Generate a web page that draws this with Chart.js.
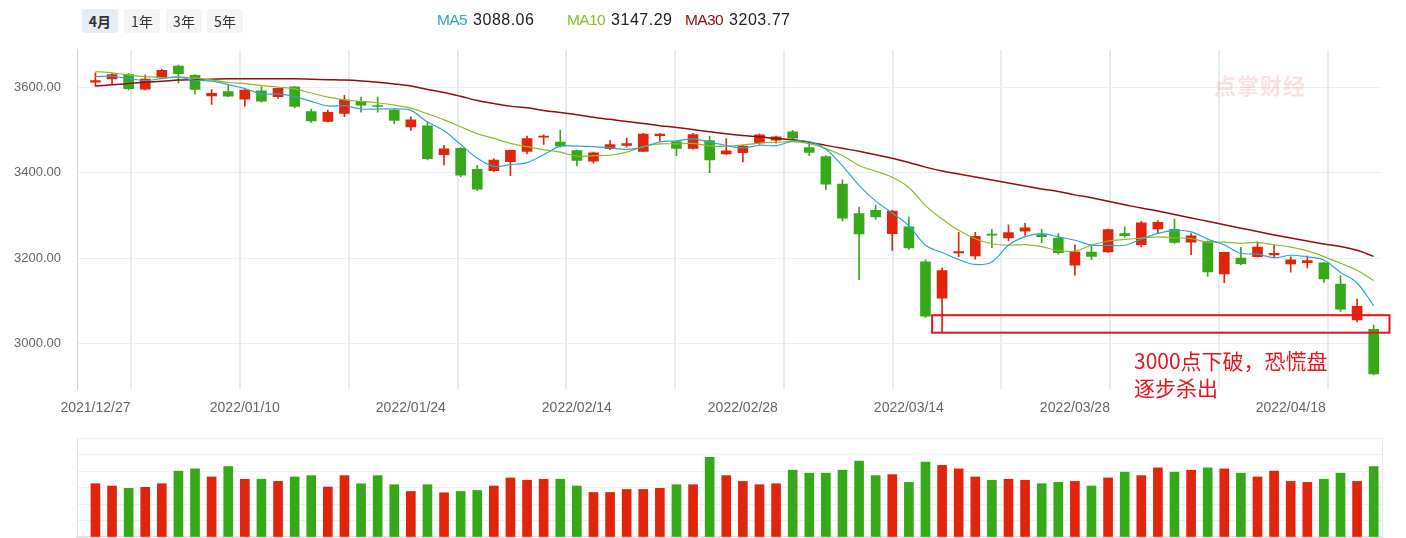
<!DOCTYPE html>
<html lang="zh-CN">
<head>
<meta charset="UTF-8" />
<title>上证指数 日K线</title>
<script src="https://cdn.jsdelivr.net/npm/chart.js"></script>
<style>
  body { margin: 0; background: #fff; font-family: "Liberation Sans", Arial, sans-serif; }
  .wrap { position: relative; width: 1406px; height: 538px; overflow: hidden; }
  .tab { position: absolute; top: 9px; width: 36px; height: 24px; line-height: 24px; text-align: center;
         font-size: 14px; color: #333; background: #f4f4f4; border-radius: 2px; z-index: 2;
         font-family: "Noto Sans CJK SC", sans-serif; }
  .tab.on { background: #e6ebf5; font-weight: bold; }
  .lg { position: absolute; top: 10px; line-height: 20px; z-index: 2; white-space: nowrap; }
  .lg b { font-weight: normal; font-size: 15.5px; letter-spacing: -0.6px; }
  .lg i { font-style: normal; font-size: 16px; letter-spacing: 0.5px; color: #222; margin-left: 6px; }
  canvas { position: absolute; left: 0; }
  .note { position: absolute; left: 1134px; top: 347px; font-size: 21px; line-height: 27px; color: #e8141c;
          font-family: "Noto Sans CJK SC", sans-serif; z-index: 2; }
  .mark { position: absolute; left: 1214px; top: 68px; font-size: 22px; font-weight: bold; color: rgba(225,120,120,0.22);
          font-family: "Noto Sans CJK SC", sans-serif; letter-spacing: 1px; z-index: 2; }
</style>
</head>
<body>
<div class="wrap">
  <div class="tab on" style="left:82px">4月</div>
  <div class="tab" style="left:124px">1年</div>
  <div class="tab" style="left:166px">3年</div>
  <div class="tab" style="left:207px">5年</div>

  <div class="lg" style="left:437px"><b style="color:#2ba7d5">MA5</b><i>3088.06</i></div>
  <div class="lg" style="left:567px"><b style="color:#8dbb2b">MA10</b><i>3147.29</i></div>
  <div class="lg" style="left:685px"><b style="color:#920d0d">MA30</b><i>3203.77</i></div>

  <div class="mark">点掌财经</div>
  <canvas id="kline" width="1406" height="394" style="top:26px"></canvas>
  <canvas id="vol" width="1406" height="108" style="top:430px"></canvas>
  <div class="note">3000点下破，恐慌盘<br>逐步杀出</div>
</div>

<script>
  // 交易日
  const dates = [
    "2021/12/27","2021/12/28","2021/12/29","2021/12/30","2021/12/31",
    "2022/01/04","2022/01/05","2022/01/06","2022/01/07",
    "2022/01/10","2022/01/11","2022/01/12","2022/01/13","2022/01/14",
    "2022/01/17","2022/01/18","2022/01/19","2022/01/20","2022/01/21",
    "2022/01/24","2022/01/25","2022/01/26","2022/01/27","2022/01/28",
    "2022/02/07","2022/02/08","2022/02/09","2022/02/10","2022/02/11",
    "2022/02/14","2022/02/15","2022/02/16","2022/02/17","2022/02/18",
    "2022/02/21","2022/02/22","2022/02/23","2022/02/24","2022/02/25",
    "2022/02/28","2022/03/01","2022/03/02","2022/03/03","2022/03/04",
    "2022/03/07","2022/03/08","2022/03/09","2022/03/10","2022/03/11",
    "2022/03/14","2022/03/15","2022/03/16","2022/03/17","2022/03/18",
    "2022/03/21","2022/03/22","2022/03/23","2022/03/24","2022/03/25",
    "2022/03/28","2022/03/29","2022/03/30","2022/03/31","2022/04/01",
    "2022/04/06","2022/04/07","2022/04/08",
    "2022/04/11","2022/04/12","2022/04/13","2022/04/14","2022/04/15",
    "2022/04/18","2022/04/19","2022/04/20","2022/04/21","2022/04/22",
    "2022/04/25"
  ];
  const xTickIdx = [0, 9, 19, 29, 39, 49, 59, 72];
  const yTicks = [3000, 3200, 3400, 3600];

  const openV = [3612,3620,3630,3596,3624,3650,3628,3580,3590,3572,3592,3578,3601,3543,3520,3539,3567,3557,3547,3507,
    3510,3442,3457,3408,3405,3426,3450,3483,3472,3452,3427,3456,3464,3450,3487,3473,3457,3475,3444,3447,
    3470,3476,3496,3459,3438,3373,3304,3312,3257,3273,3191,3106,3212,3205,3256,3247,3263,3255,3247,3183,
    3214,3214,3257,3231,3268,3267,3237,3239,3163,3200,3203,3207,3186,3189,3189,3139,3055,3033];
  const highV = [3634,3632,3632,3629,3642,3652,3630,3595,3607,3596,3601,3599,3602,3549,3547,3581,3577,3577,3549,3531,
    3520,3464,3459,3417,3433,3453,3486,3489,3500,3453,3448,3475,3481,3492,3492,3474,3492,3486,3480,3464,
    3491,3486,3499,3470,3440,3383,3319,3324,3312,3296,3196,3177,3260,3260,3267,3278,3281,3267,3257,3231,
    3228,3268,3273,3286,3288,3291,3257,3240,3214,3225,3238,3231,3203,3205,3190,3159,3104,3043];
  const lowV = [3603,3608,3594,3594,3623,3610,3584,3560,3578,3556,3565,3574,3552,3518,3519,3531,3542,3542,3515,3499,
    3430,3418,3390,3358,3403,3393,3444,3466,3460,3416,3422,3454,3460,3449,3474,3440,3455,3400,3442,3425,
    3466,3469,3478,3440,3360,3287,3149,3291,3218,3220,3061,3025,3203,3197,3224,3240,3253,3236,3209,3160,
    3196,3213,3249,3226,3258,3234,3208,3157,3142,3184,3202,3200,3167,3177,3143,3075,3050,2926];
  const closeV = [3615.97,3630.11,3597.00,3619.19,3639.78,3632.33,3595.18,3586.08,3579.54,3593.52,
    3567.44,3597.43,3555.26,3521.26,3541.67,3569.91,3558.18,3555.06,3522.57,3524.11,
    3433.06,3455.67,3394.25,3361.44,3429.58,3452.63,3479.95,3485.91,3462.95,3428.88,
    3446.65,3465.83,3468.04,3490.76,3490.61,3457.15,3489.15,3429.96,3451.41,3462.31,
    3488.83,3484.19,3481.11,3447.65,3372.86,3293.53,3256.39,3296.09,3309.75,3223.54,
    3063.97,3170.71,3215.04,3251.07,3253.69,3259.86,3271.03,3250.26,3212.24,3214.50,
    3203.94,3266.60,3252.20,3282.72,3283.43,3236.70,3251.85,3167.13,3213.33,3186.82,
    3225.64,3211.24,3195.52,3194.03,3151.05,3079.81,3086.92,2928.51];

  const ma5 = [3625.0,3626.0,3620.9,3616.1,3620.4,3623.7,3616.7,3614.5,3606.6,3597.3,
    3584.4,3584.8,3578.6,3567.0,3556.6,3557.1,3549.3,3549.2,3549.5,3546.0,
    3518.6,3498.1,3465.9,3433.7,3414.8,3418.7,3423.6,3441.9,3462.2,3462.1,
    3460.9,3458.0,3454.5,3460.0,3472.4,3474.5,3479.1,3471.5,3463.7,3458.0,
    3464.3,3463.3,3473.6,3472.8,3454.9,3415.9,3370.3,3333.3,3305.7,3275.9,
    3229.9,3212.8,3196.6,3184.9,3190.9,3230.1,3250.1,3257.2,3249.4,3241.6,
    3230.4,3229.5,3229.9,3244.0,3257.8,3264.3,3261.4,3244.4,3230.5,3211.2,
    3209.0,3200.8,3206.5,3202.7,3195.5,3166.3,3141.5,3088.06];
  const ma10 = [3637,3634,3629,3625,3623,3624.4,3621.4,3617.7,3611.4,3608.9,
    3604.1,3600.8,3596.6,3586.8,3577.0,3570.8,3567.1,3563.9,3558.3,3551.3,
    3537.9,3523.7,3507.6,3491.6,3480.4,3468.7,3460.9,3453.9,3448.0,3438.5,
    3439.8,3440.8,3448.2,3461.1,3467.3,3467.7,3468.6,3463.0,3461.9,3465.2,
    3469.4,3471.2,3472.6,3468.3,3456.5,3440.1,3416.8,3403.5,3389.3,3365.4,
    3322.9,3291.6,3265.0,3245.3,3233.4,3230.0,3231.5,3226.9,3217.2,3216.3,
    3230.3,3239.8,3243.6,3246.7,3249.7,3247.4,3245.5,3237.2,3237.3,3234.5,
    3236.7,3231.1,3225.5,3216.6,3203.4,3187.7,3171.2,3147.29];
  const ma30 = [3603,3606,3609,3612,3614,3617,3618,3619,3620,3620,
    3620,3620,3620,3619,3618,3617,3615,3612,3608,3603,
    3595,3588,3579,3569,3562,3556,3552,3546,3541,3536,
    3530,3525,3520,3515,3510,3506,3501,3496,3491,3487,
    3484,3480,3477,3471,3464,3457,3450,3442,3434,3424,
    3413,3404,3397,3390,3383,3376,3369,3362,3356,3348,
    3341,3333,3325,3317,3310,3302,3294,3286,3278,3270,
    3262,3254,3247,3240,3233,3227,3218,3203.77];

  // 成交额（亿）
  const volume = [3230,3090,2950,3010,3230,3990,4130,3640,4270,3500,
    3500,3370,3640,3720,3030,3720,3230,3720,3170,2760,
    3170,2680,2760,2820,3090,3580,3440,3500,3500,3090,
    2700,2700,2880,2880,2950,3170,3170,4830,3720,3370,
    3170,3230,4050,3870,3870,4050,4600,3720,3780,3310,
    4540,4340,4130,3640,3440,3500,3440,3230,3310,3370,
    3090,3580,3930,3720,4190,3930,4050,4190,4130,3870,
    3640,3990,3370,3310,3500,3870,3370,4270];

  // 标注框（数据坐标）
  const boxX = [50.4, 77.95];
  const boxY = [3025, 3066];

  const RED = "#e0250c";
  const GREEN = "#35a917";
  const colors = openV.map((o, i) => (closeV[i] >= o ? RED : GREEN));

  const xMin = -1.11, xMax = 77.5;
  const yMin = 2893, yMax = 3688;

  Chart.defaults.font.family = '"Liberation Sans", Arial, sans-serif';

  const boxPlugin = {
    id: "box",
    afterDatasetsDraw(chart) {
      const { ctx, scales: { x, y } } = chart;
      const l = x.getPixelForValue(boxX[0]), r = x.getPixelForValue(boxX[1]);
      const t = y.getPixelForValue(boxY[1]), b = y.getPixelForValue(boxY[0]);
      ctx.save();
      ctx.strokeStyle = "#e8141c";
      ctx.lineWidth = 2;
      ctx.strokeRect(l, t, r - l, b - t);
      ctx.restore();
    }
  };

  const maLine = (label, arr, color, width) => ({
    type: "line", label, data: arr.map((v, i) => ({ x: i, y: v })),
    borderColor: color, borderWidth: width, pointRadius: 0, tension: 0.35,
    xAxisID: "x", yAxisID: "y", order: 0
  });

  new Chart(document.getElementById("kline"), {
    type: "bar",
    data: {
      datasets: [
        maLine("MA5", ma5, "#2ba7d5", 1.2),
        maLine("MA10", ma10, "#8dbb2b", 1.2),
        maLine("MA30", ma30, "#920d0d", 1.5),
        {
          label: "body", data: openV.map((o, i) => ({ x: i, y: [o, closeV[i]] })),
          backgroundColor: colors, barThickness: 10, grouped: false, minBarLength: 1,
          xAxisID: "x", yAxisID: "y", order: 1
        },
        {
          label: "wick", data: lowV.map((l, i) => ({ x: i, y: [l, highV[i]] })),
          backgroundColor: colors, barThickness: 1, grouped: false,
          xAxisID: "x", yAxisID: "y", order: 2
        }
      ]
    },
    options: {
      responsive: false,
      animation: false,
      layout: { padding: { top: 9, right: 24, left: 0, bottom: 0 } },
      plugins: { legend: { display: false }, tooltip: { enabled: false } },
      scales: {
        x: {
          type: "linear", min: xMin, max: xMax, offset: false,
          grid: { display: false }, border: { display: false },
          afterBuildTicks: s => { s.ticks = xTickIdx.map(v => ({ value: v })); },
          ticks: { autoSkip: false, maxRotation: 0, padding: 3, color: "#666", font: { size: 14 },
                   callback: v => dates[v] },
          afterFit: s => { s.height = 31; }
        },
        xg: {
          type: "linear", position: "bottom", min: xMin, max: xMax, offset: false,
          afterBuildTicks: s => {
            const t = [];
            for (let k = 0; k <= 12; k++) t.push({ value: xMin + k * (xMax - xMin) / 12 });
            s.ticks = t;
          },
          ticks: { display: false },
          grid: { color: "#e6ebf1", lineWidth: 2, drawTicks: false },
          border: { display: false },
          afterFit: s => { s.height = 0; }
        },
        y: {
          min: yMin, max: yMax,
          afterBuildTicks: s => { s.ticks = yTicks.map(v => ({ value: v })); },
          ticks: { color: "#666", font: { size: 13 }, padding: 16, callback: v => v.toFixed(2) },
          grid: { color: "#ebeff4", drawTicks: false },
          border: { color: "#c6d6ea" },
          afterFit: s => { s.width = 77; }
        }
      }
    },
    plugins: [boxPlugin]
  });

  new Chart(document.getElementById("vol"), {
    type: "bar",
    data: {
      datasets: [{
        data: volume.map((v, i) => ({ x: i, y: v })),
        backgroundColor: colors, barThickness: 9, xAxisID: "x", yAxisID: "y"
      }]
    },
    options: {
      responsive: false,
      animation: false,
      layout: { padding: { top: 8, right: 24, left: 0, bottom: 1 } },
      plugins: { legend: { display: false }, tooltip: { enabled: false } },
      scales: {
        x: {
          type: "linear", min: xMin, max: xMax, offset: false,
          ticks: { display: false }, grid: { display: false },
          border: { color: "#dfe4f1", width: 2 },
          afterFit: s => { s.height = 0; }
        },
        y: {
          min: 0, max: 6000,
          ticks: { display: false, stepSize: 1000 },
          grid: { color: "#edf1f5", drawTicks: false },
          border: { color: "#dde5ef" },
          afterFit: s => { s.width = 77; }
        },
        yr: {
          position: "right", min: 0, max: 6000,
          ticks: { display: false }, grid: { display: false },
          border: { color: "#e8ecf2" },
          afterFit: s => { s.width = 0; }
        }
      }
    }
  });
</script>
</body>
</html>
